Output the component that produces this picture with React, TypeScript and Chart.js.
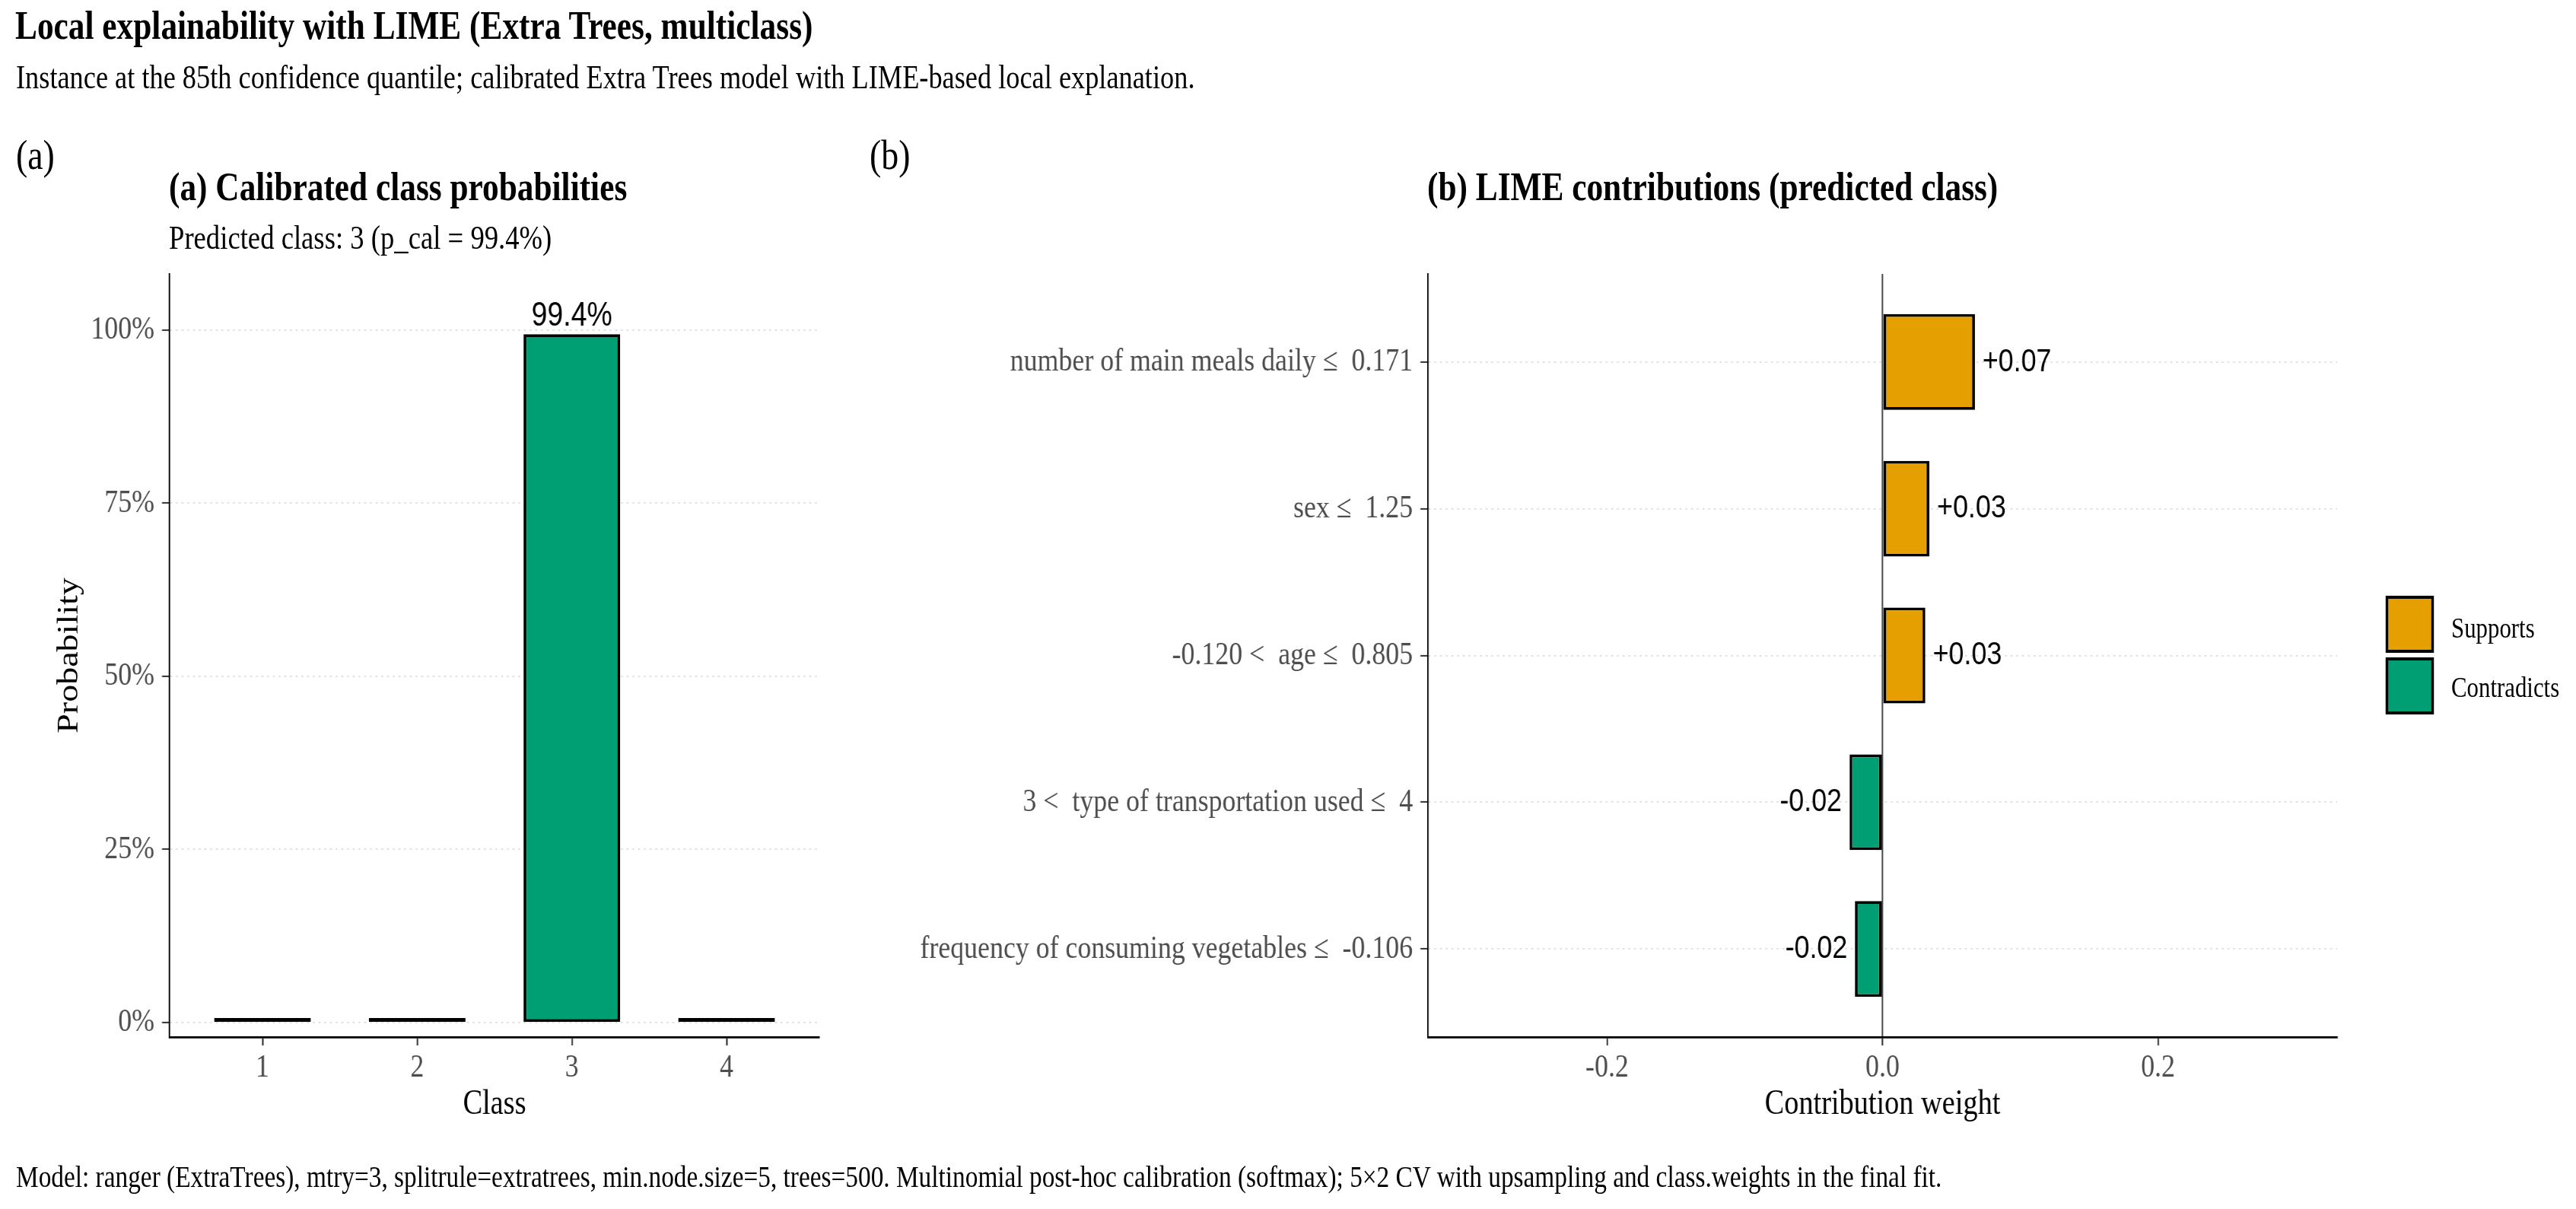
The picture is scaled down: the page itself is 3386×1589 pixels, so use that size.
import React, { useEffect, useRef } from "react";
import { Chart, registerables } from "chart.js";

Chart.register(...registerables);

// ---------- data ----------
const classLabels = ["1", "2", "3", "4"];
const classProbabilities = [0.001, 0.003, 0.994, 0.002];
const predictedClass = "3";
const probabilityTicks = [0, 0.25, 0.5, 0.75, 1];

const featureRules = [
  "number of main meals daily \u2264  0.171",
  "sex \u2264  1.25",
  "-0.120 <  age \u2264  0.805",
  "3 <  type of transportation used \u2264  4",
  "frequency of consuming vegetables \u2264  -0.106",
];
const limeWeights = [0.067, 0.034, 0.031, -0.024, -0.02];
const weightTicks = [-0.2, 0, 0.2];
const effectLabels = ["Supports", "Contradicts"];
const effectColors = ["#E69F00", "#009E73"];

const titleText = "Local explainability with LIME (Extra Trees, multiclass)";
const subtitleText =
  "Instance at the 85th confidence quantile; calibrated Extra Trees model with LIME-based local explanation.";
const captionText =
  "Model: ranger (ExtraTrees), mtry=3, splitrule=extratrees, min.node.size=5, trees=500. Multinomial post-hoc calibration (softmax); 5\u00d72 CV with upsampling and class.weights in the final fit.";

// ---------- layout ----------
// The figure is laid out on a wider design grid and squeezed horizontally.
const SX = 1.2;
const PAGE_W = 3386;
const PAGE_H = 1589;
const DESIGN_W = PAGE_W * SX;
const X = (v: number) => v * SX;

const PANEL_TOP = 360;
const PANEL_BOTTOM = 1363;
const X_AXIS_H = 200;

const A_CANVAS_W = 1340;
const A_LEFT = X(223);
const A_RIGHT = X(1077);

const B_CANVAS_X = 1340;
const B_CANVAS_W = 2400;
const B_LEFT = X(1877) - B_CANVAS_X;
const B_RIGHT = X(3072) - B_CANVAS_X;

const SERIF = "'Liberation Serif', 'Times New Roman', serif";
const SANS = "'Liberation Sans', Arial, sans-serif";
const GRID = "#DADADA";
const GRID_DASH = [3, 6];
const TICK_TEXT = "#4D4D4D";
const TICK_MARK = "#333333";
const TICK_FONT = 43;
const AXIS_TITLE_FONT = 46;

const fixTicks = (values: number[]) => (scale: any) => {
  scale.ticks = values.map((v) => ({ value: v }));
};

const pct = (p: number) => `${(p * 100).toFixed(1)}%`;

function probabilityLabels() {
  return {
    id: "probabilityLabels",
    afterDatasetsDraw(chart: any) {
      const ctx = chart.ctx;
      const meta = chart.getDatasetMeta(0);
      ctx.save();
      ctx.font = `45px ${SANS}`;
      ctx.fillStyle = "#000";
      ctx.textAlign = "center";
      ctx.textBaseline = "alphabetic";
      meta.data.forEach((bar: any, i: number) => {
        if (classLabels[i] !== predictedClass) return;
        ctx.fillText(pct(classProbabilities[i]), bar.x, bar.y - 11);
      });
      ctx.restore();
    },
  };
}

function weightLabels() {
  return {
    id: "weightLabels",
    afterDatasetsDraw(chart: any) {
      const ctx = chart.ctx;
      const meta = chart.getDatasetMeta(0);
      ctx.save();
      ctx.font = `43px ${SANS}`;
      ctx.fillStyle = "#000";
      ctx.textBaseline = "middle";
      meta.data.forEach((bar: any, i: number) => {
        const w = limeWeights[i];
        const text = (w > 0 ? "+" : "") + w.toFixed(2);
        if (w >= 0) {
          ctx.textAlign = "left";
          ctx.fillText(text, bar.x + 12, bar.y);
        } else {
          ctx.textAlign = "right";
          ctx.fillText(text, bar.x - 12, bar.y);
        }
      });
      ctx.restore();
    },
  };
}

const barBorder = { left: 4.4, right: 4.4, top: 3.8, bottom: 3.8 };

function probabilityConfig(): any {
  return {
    type: "bar",
    data: {
      datasets: [
        {
          data: classLabels.map((_, i) => ({ x: i + 1, y: classProbabilities[i] })),
          backgroundColor: classLabels.map((c) => (c === predictedClass ? "#009E73" : "#BDBDBD")),
          borderColor: "#000000",
          borderWidth: barBorder,
          borderSkipped: false,
          inflateAmount: 0,
          barPercentage: 0.625,
          categoryPercentage: 1,
          minBarLength: 6,
        },
      ],
    },
    options: {
      animation: false,
      responsive: false,
      devicePixelRatio: 1,
      events: [],
      layout: {
        padding: {
          left: 0,
          right: A_CANVAS_W - A_RIGHT,
          top: PANEL_TOP,
          bottom: PAGE_H - PANEL_BOTTOM - X_AXIS_H,
        },
      },
      scales: {
        x: {
          type: "linear",
          offset: false,
          min: 0.4,
          max: classLabels.length + 0.6,
          afterBuildTicks: fixTicks(classLabels.map((_, i) => i + 1)),
          afterFit: (s: any) => {
            s.height = X_AXIS_H;
          },
          ticks: {
            callback: (v: any) => classLabels[Number(v) - 1] ?? "",
            color: TICK_TEXT,
            font: { family: SERIF, size: TICK_FONT },
            padding: 4,
            maxRotation: 0,
            autoSkip: false,
          },
          grid: {
            offset: false,
            color: "rgba(0,0,0,0)",
            tickLength: 11,
            tickColor: TICK_MARK,
            tickWidth: 2.4,
            tickBorderDash: [],
          },
          border: { color: "#000000", width: 2.7 },
          title: {
            display: true,
            text: "Class",
            color: "#000000",
            font: { family: SERIF, size: AXIS_TITLE_FONT },
            padding: { top: 0, bottom: 83 },
          },
        },
        y: {
          type: "linear",
          offset: false,
          min: -0.021,
          max: 1.081,
          afterBuildTicks: fixTicks(probabilityTicks),
          afterFit: (s: any) => {
            s.width = A_LEFT;
          },
          ticks: {
            callback: (v: any) => `${Math.round(Number(v) * 100)}%`,
            color: TICK_TEXT,
            font: { family: SERIF, size: TICK_FONT },
            padding: 12,
            autoSkip: false,
          },
          grid: {
            offset: false,
            color: GRID,
            lineWidth: 1.8,
            tickLength: 12,
            tickColor: TICK_MARK,
            tickWidth: 2,
            tickBorderDash: [],
          },
          border: { color: "#000000", width: 2.4, dash: GRID_DASH },
          title: {
            display: true,
            text: "Probability",
            color: "#000000",
            font: { family: SERIF, size: AXIS_TITLE_FONT },
            padding: { top: 82, bottom: 0 },
          },
        },
      },
      plugins: { legend: { display: false }, tooltip: { enabled: false } },
    },
    plugins: [probabilityLabels()],
  };
}

function limeConfig(): any {
  return {
    type: "bar",
    data: {
      datasets: [
        {
          data: featureRules.map((_, i) => ({ x: limeWeights[i], y: i + 1 })),
          backgroundColor: limeWeights.map((w) => (w > 0 ? effectColors[0] : effectColors[1])),
          borderColor: "#000000",
          borderWidth: barBorder,
          borderSkipped: false,
          inflateAmount: 0,
          barPercentage: 0.653,
          categoryPercentage: 1,
        },
      ],
    },
    options: {
      indexAxis: "y",
      animation: false,
      responsive: false,
      devicePixelRatio: 1,
      events: [],
      layout: {
        padding: {
          left: 0,
          right: B_CANVAS_W - B_RIGHT,
          top: PANEL_TOP,
          bottom: PAGE_H - PANEL_BOTTOM - X_AXIS_H,
        },
      },
      scales: {
        x: {
          type: "linear",
          offset: false,
          min: -0.33,
          max: 0.33,
          afterBuildTicks: fixTicks(weightTicks),
          afterFit: (s: any) => {
            s.height = X_AXIS_H;
          },
          ticks: {
            callback: (v: any) => Number(v).toFixed(1),
            color: TICK_TEXT,
            font: { family: SERIF, size: TICK_FONT },
            padding: 4,
            maxRotation: 0,
            autoSkip: false,
          },
          grid: {
            offset: false,
            color: (c: any) => (c.tick && c.tick.value === 0 ? "#4D4D4D" : "rgba(0,0,0,0)"),
            lineWidth: 2.4,
            tickLength: 11,
            tickColor: TICK_MARK,
            tickWidth: 2.4,
            tickBorderDash: [],
          },
          border: { color: "#000000", width: 2.7 },
          title: {
            display: true,
            text: "Contribution weight",
            color: "#000000",
            font: { family: SERIF, size: AXIS_TITLE_FONT },
            padding: { top: 0, bottom: 83 },
          },
        },
        y: {
          type: "linear",
          offset: false,
          reverse: true,
          min: 0.4,
          max: featureRules.length + 0.6,
          afterBuildTicks: fixTicks(featureRules.map((_, i) => i + 1)),
          afterFit: (s: any) => {
            s.width = B_LEFT;
          },
          ticks: {
            callback: (v: any) => featureRules[Number(v) - 1] ?? "",
            color: TICK_TEXT,
            font: { family: SERIF, size: TICK_FONT },
            padding: 12,
            autoSkip: false,
          },
          grid: {
            offset: false,
            color: GRID,
            lineWidth: 1.8,
            tickLength: 12,
            tickColor: TICK_MARK,
            tickWidth: 2,
            tickBorderDash: [],
          },
          border: { color: "#000000", width: 2.4, dash: GRID_DASH },
        },
      },
      plugins: { legend: { display: false }, tooltip: { enabled: false } },
    },
    plugins: [weightLabels()],
  };
}

type TextProps = {
  x: number;
  baseline: number;
  size: number;
  bold?: boolean;
  color?: string;
  children: React.ReactNode;
};

// Places a line of serif text so that its baseline sits at `baseline`.
function TextLine({ x, baseline, size, bold, color, children }: TextProps) {
  return (
    <div
      style={{
        position: "absolute",
        left: X(x),
        top: baseline - 0.8375 * size,
        fontFamily: SERIF,
        fontSize: size,
        fontWeight: bold ? 700 : 400,
        lineHeight: `${size}px`,
        whiteSpace: "pre",
        color: color ?? "#000",
      }}
    >
      {children}
    </div>
  );
}

function LegendKey({ top, color }: { top: number; color: string }) {
  return (
    <div
      style={{
        position: "absolute",
        left: X(3136),
        top,
        width: X(63),
        height: 75,
        boxSizing: "border-box",
        border: "4px solid #000",
        background: color,
      }}
    />
  );
}

export default function App() {
  const probRef = useRef<HTMLCanvasElement>(null);
  const limeRef = useRef<HTMLCanvasElement>(null);

  useEffect(() => {
    const probChart = new Chart(probRef.current as HTMLCanvasElement, probabilityConfig());
    const limeChart = new Chart(limeRef.current as HTMLCanvasElement, limeConfig());
    return () => {
      probChart.destroy();
      limeChart.destroy();
    };
  }, []);

  const predIdx = classLabels.indexOf(predictedClass);

  return (
    <div
      style={{
        position: "fixed",
        left: 0,
        top: 0,
        width: PAGE_W,
        height: PAGE_H,
        overflow: "hidden",
        background: "#fff",
      }}
    >
      <div
        style={{
          position: "absolute",
          left: 0,
          top: 0,
          width: DESIGN_W,
          height: PAGE_H,
          transform: `scaleX(${1 / SX})`,
          transformOrigin: "0 0",
        }}
      >
        <canvas
          ref={probRef}
          width={A_CANVAS_W}
          height={PAGE_H}
          style={{ position: "absolute", left: 0, top: 0, width: A_CANVAS_W, height: PAGE_H }}
        />
        <canvas
          ref={limeRef}
          width={B_CANVAS_W}
          height={PAGE_H}
          style={{ position: "absolute", left: B_CANVAS_X, top: 0, width: B_CANVAS_W, height: PAGE_H }}
        />

        <TextLine x={20} baseline={51.7} size={52} bold>
          {titleText}
        </TextLine>
        <TextLine x={21} baseline={116.7} size={43.6}>
          {subtitleText}
        </TextLine>

        <TextLine x={21} baseline={221.7} size={55}>
          (a)
        </TextLine>
        <TextLine x={1143} baseline={221.7} size={55}>
          (b)
        </TextLine>

        <TextLine x={222} baseline={263.3} size={52} bold>
          (a) Calibrated class probabilities
        </TextLine>
        <TextLine x={222} baseline={327.7} size={44}>
          {`Predicted class: ${predictedClass} (p_cal = ${pct(classProbabilities[predIdx])})`}
        </TextLine>
        <TextLine x={1876} baseline={263.3} size={52} bold>
          (b) LIME contributions (predicted class)
        </TextLine>

        <LegendKey top={783} color={effectColors[0]} />
        <LegendKey top={864} color={effectColors[1]} />
        <TextLine x={3222} baseline={838} size={37}>
          {effectLabels[0]}
        </TextLine>
        <TextLine x={3222} baseline={916} size={37}>
          {effectLabels[1]}
        </TextLine>

        <TextLine x={21} baseline={1560} size={40}>
          {captionText}
        </TextLine>
      </div>
    </div>
  );
}
